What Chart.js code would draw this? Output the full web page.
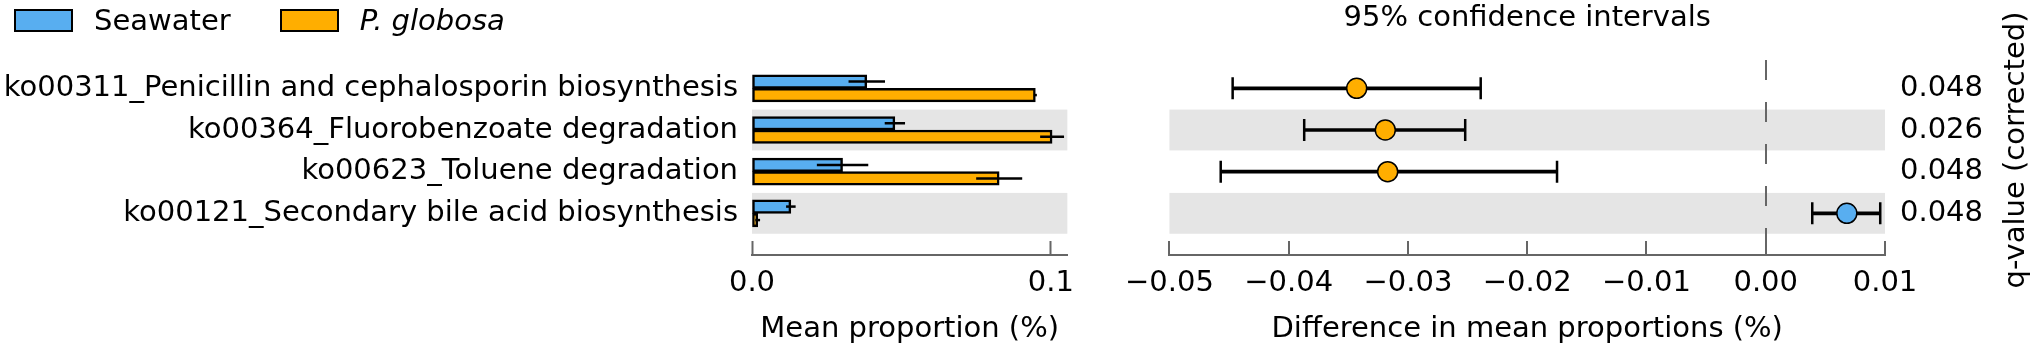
<!DOCTYPE html>
<html lang="en">
<head>
  <meta charset="UTF-8" />
  <title>Seawater vs P. globosa KEGG pathways</title>
  <script src="https://cdn.jsdelivr.net/npm/chart.js"></script>
  <style>
    body {
      margin: 0;
      width: 2032px;
      height: 351px;
      overflow: hidden;
      position: relative;
      background: #fff;
      font-family: 'DejaVu Sans', sans-serif;
    }
    #left { position: absolute; left: 0; top: 0; }
    #right { position: absolute; left: 1100px; top: 0; }
    #legend {
      position: absolute;
      left: 14px;
      top: 9px;
      display: flex;
      font-size: 29px;
      line-height: 23px;
      color: #000;
    }
    .item { display: flex; align-items: center; margin-right: 49px; }
    .box {
      box-sizing: border-box;
      width: 59px;
      height: 23px;
      border: 2.5px solid #000;
      margin-right: 21px;
    }
  </style>
</head>
<body>
  <canvas id="left" width="1100" height="351"></canvas>
  <canvas id="right" width="932" height="351"></canvas>
  <div id="legend"></div>

  <script>
    // values (%)
    const pathways = [
      'ko00311_Penicillin and cephalosporin biosynthesis',
      'ko00364_Fluorobenzoate degradation',
      'ko00623_Toluene degradation',
      'ko00121_Secondary bile acid biosynthesis'
    ];
    const seriesNames = ['Seawater', 'P. globosa'];
    const seawaterMean = [0.0384, 0.0478, 0.0303, 0.0130];
    const seawaterErr = [0.0061, 0.0034, 0.0086, 0.0016];
    const globosaMean = [0.0948, 0.1004, 0.0827, 0.0019];
    const globosaErr = [0.0005, 0.0040, 0.0077, 0.0008];
    const diffMean = [-0.0343, -0.0319, -0.0317, 0.0068];
    const ciLow = [-0.0447, -0.0387, -0.0457, 0.0039];
    const ciHigh = [-0.0239, -0.0252, -0.0175, 0.0096];
    const qValues = ['0.048', '0.026', '0.048', '0.048'];
    const meanTicks = [0, 0.1];
    const diffTicks = [-0.05, -0.04, -0.03, -0.02, -0.01, 0, 0.01];

    const BLUE = '#58aef0';
    const ORANGE = '#ffae00';
    const BAND = '#e5e5e5';
    const AXIS = '#666';
    const seriesColors = [BLUE, ORANGE];
    const FONT_SIZE = 29;

    // shared row scale: rows 0..3, extra room below the last row for the axis
    const rowMin = -0.68;
    const rowMax = 4;

    Chart.defaults.font.family = "'DejaVu Sans', sans-serif";
    Chart.defaults.font.size = FONT_SIZE;
    Chart.defaults.color = '#000';

    const minus = v => v.toFixed(2).replace('-', '\u2212');

    // grey band behind every second row
    const rowBands = {
      id: 'rowBands',
      beforeDraw(chart) {
        const { ctx, chartArea, scales: { y } } = chart;
        ctx.save();
        ctx.fillStyle = BAND;
        pathways.forEach((_, i) => {
          if (i % 2 === 0) return;
          const top = y.getPixelForValue(i - 0.49);
          const bottom = y.getPixelForValue(i + 0.49);
          ctx.fillRect(chartArea.left, top, chartArea.right - chartArea.left, bottom - top);
        });
        ctx.restore();
      }
    };

    // horizontal std error lines on the mean proportion bars
    const barErrors = {
      id: 'barErrors',
      afterDatasetsDraw(chart) {
        const { ctx, scales: { x } } = chart;
        ctx.save();
        ctx.strokeStyle = '#000';
        ctx.lineWidth = 2.5;
        chart.data.datasets.forEach((ds, d) => {
          chart.getDatasetMeta(d).data.forEach((bar, i) => {
            const m = ds.data[i].x;
            ctx.beginPath();
            ctx.moveTo(x.getPixelForValue(m - ds.errors[i]), bar.y);
            ctx.lineTo(x.getPixelForValue(m + ds.errors[i]), bar.y);
            ctx.stroke();
          });
        });
        ctx.restore();
      }
    };

    // right axis title reads bottom-to-top
    const qTitle = {
      id: 'qTitle',
      afterDraw(chart) {
        const ctx = chart.ctx;
        ctx.save();
        ctx.translate(916, 150);
        ctx.rotate(-Math.PI / 2);
        ctx.font = FONT_SIZE + "px 'DejaVu Sans', sans-serif";
        ctx.fillStyle = '#000';
        ctx.textAlign = 'center';
        ctx.textBaseline = 'middle';
        ctx.fillText('q-value (corrected)', 0, 0);
        ctx.restore();
      }
    };

    // legend
    const legend = document.getElementById('legend');
    seriesNames.forEach((name, i) => {
      const item = document.createElement('span');
      item.className = 'item';
      item.innerHTML = `<span class="box" style="background:${seriesColors[i]}"></span>` +
        `<span style="font-style:${i === 1 ? 'italic' : 'normal'}">${name}</span>`;
      legend.appendChild(item);
    });

    const rowAxis = (position, labels, width, padding) => ({
      type: 'linear',
      position,
      min: rowMin,
      max: rowMax,
      reverse: true,
      offset: false,
      grid: { display: false, drawTicks: false },
      border: { display: false },
      afterBuildTicks: s => { s.ticks = labels.map((_, i) => ({ value: i })); },
      afterFit: s => { s.width = width; },
      ticks: { autoSkip: false, padding, callback: v => labels[v] }
    });

    // left panel: mean proportions
    new Chart(document.getElementById('left'), {
      type: 'bar',
      data: {
        datasets: [
          {
            label: seriesNames[0],
            data: seawaterMean.map((v, i) => ({ x: v, y: i })),
            errors: seawaterErr,
            backgroundColor: BLUE
          },
          {
            label: seriesNames[1],
            data: globosaMean.map((v, i) => ({ x: v, y: i })),
            errors: globosaErr,
            backgroundColor: ORANGE
          }
        ]
      },
      options: {
        indexAxis: 'y',
        responsive: false,
        animation: false,
        devicePixelRatio: 1,
        events: [],
        layout: { padding: { left: 0, right: 20, top: 60, bottom: 0 } },
        datasets: {
          bar: { barThickness: 13.5, borderColor: '#000', borderWidth: 2.5, borderSkipped: false }
        },
        plugins: { legend: { display: false }, tooltip: { enabled: false } },
        scales: {
          x: {
            type: 'linear',
            min: 0,
            max: 0.1055,
            afterBuildTicks: s => { s.ticks = meanTicks.map(v => ({ value: v })); },
            afterFit: s => { s.height = 96; },
            grid: { drawOnChartArea: false, tickColor: AXIS, tickWidth: 2, tickLength: -14 },
            border: { color: AXIS, width: 2 },
            ticks: { padding: 25, autoSkip: false, maxRotation: 0, callback: v => v.toFixed(1) },
            title: { display: true, text: 'Mean proportion (%)', padding: { top: 0, bottom: 4 } }
          },
          y: rowAxis('left', pathways, 752, 14)
        }
      },
      plugins: [rowBands, barErrors]
    });

    // right panel: difference with 95% CI
    new Chart(document.getElementById('right'), {
      type: 'scatter',
      data: {
        datasets: [
          {
            label: 'Difference',
            data: diffMean.map((v, i) => ({ x: v, y: i })),
            pointRadius: 10,
            pointBackgroundColor: diffMean.map(v => (v < 0 ? ORANGE : BLUE)),
            pointBorderColor: '#000',
            pointBorderWidth: 1.5,
            order: 0
          },
          {
            label: 'CI ends',
            data: ciLow.map((v, i) => ({ x: v, y: i })).concat(ciHigh.map((v, i) => ({ x: v, y: i }))),
            pointStyle: 'line',
            pointRotation: 90,
            pointRadius: 11,
            pointBorderColor: '#000',
            pointBorderWidth: 2.5,
            order: 1
          },
          {
            type: 'bar',
            label: '95% CI',
            indexAxis: 'y',
            xAxisID: 'x',
            yAxisID: 'y',
            data: ciLow.map((lo, i) => ({ x: [lo, ciHigh[i]], y: i })),
            backgroundColor: '#000',
            borderWidth: 0,
            barThickness: 3,
            order: 2
          }
        ]
      },
      options: {
        responsive: false,
        animation: false,
        devicePixelRatio: 1,
        events: [],
        layout: { padding: { left: 44, right: 0, top: 0, bottom: 0 } },
        plugins: {
          legend: { display: false },
          tooltip: { enabled: false },
          title: {
            display: true,
            text: '95% confidence intervals',
            fullSize: false,
            color: '#000',
            font: { size: FONT_SIZE, weight: 'normal' },
            padding: { top: 1, bottom: 24.2 }
          }
        },
        scales: {
          x: {
            type: 'linear',
            min: -0.05,
            max: 0.01,
            afterBuildTicks: s => { s.ticks = diffTicks.map(v => ({ value: v })); },
            afterFit: s => { s.height = 96; },
            grid: {
              drawOnChartArea: true,
              color: c => (c.tick && c.tick.value === 0 ? AXIS : 'rgba(0,0,0,0)'),
              lineWidth: 2,
              tickColor: AXIS,
              tickWidth: 2,
              tickLength: -14
            },
            border: { color: AXIS, width: 2, dash: [20, 22] },
            ticks: { padding: 25, autoSkip: false, maxRotation: 0, callback: v => minus(v) },
            title: { display: true, text: 'Difference in mean proportions (%)', padding: { top: 0, bottom: 4 } }
          },
          y: rowAxis('right', qValues, 147, 15)
        }
      },
      plugins: [rowBands, qTitle]
    });
  </script>
</body>
</html>
